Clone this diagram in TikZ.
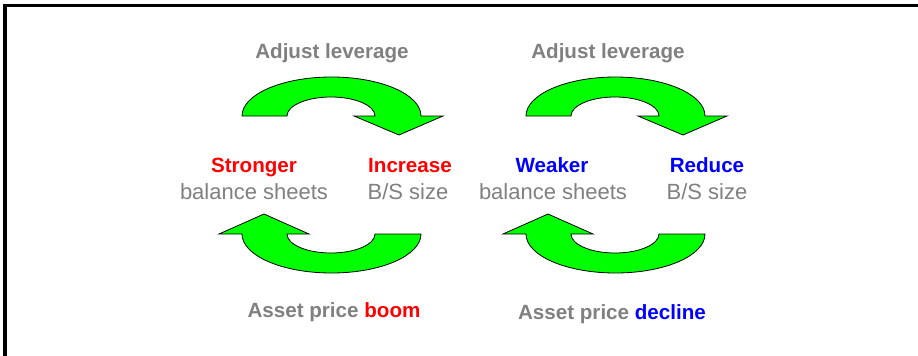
\documentclass[tikz,border=0pt]{standalone}
\usepackage{fontspec}
\setmainfont{Liberation Sans}
\definecolor{txtgray}{HTML}{808080}
\begin{document}
\begin{tikzpicture}[x=0.5pt,y=0.5pt,
            cyclearrow/.style={draw=black,fill=green,line width=0.4pt,line join=miter},
            sidetext/.style={anchor=base,inner sep=0pt,text=txtgray,font=\fontsize{11}{13}\selectfont},
            headtext/.style={sidetext,font=\fontsize{10.3}{12}\selectfont\bfseries}]
            \useasboundingbox (0,0) rectangle (918,355);
            % frame
            \draw[line width=1.5pt,line join=miter] (5,-10) -- (5,350) -- (930,350);
            % arrows
            \foreach \dx in {0,284} {
              \begin{scope}[shift={(\dx,0)}]
                \filldraw[cyclearrow] (242,239) arc[start angle=180,end angle=0,x radius=89.5,y radius=39]
                  -- (443,239) -- (399,220) -- (354,239) -- (375,239)
                  arc[start angle=0,end angle=180,x radius=44,y radius=19] -- cycle;
                \filldraw[cyclearrow] (421,121) arc[start angle=0,end angle=-180,x radius=89.5,y radius=39]
                  -- (219,121) -- (264,141) -- (309,121) -- (287,121)
                  arc[start angle=180,end angle=360,x radius=44,y radius=19] -- cycle;
              \end{scope}
            }
            % texts
            \node[headtext] (lev1) at (332,297) {Adjust leverage};
            \node[headtext] (lev2) at (608,297) {Adjust leverage};
            \node[headtext,text=red] (strong) at (254,183) {Stronger};
            \node[sidetext] (bal1) at (254,156) {balance sheets};
            \node[headtext,text=red] (incr) at (410,183) {Increase};
            \node[sidetext] (bs1) at (408,156) {B/S size};
            \node[headtext,text=blue] (weak) at (552,183) {Weaker};
            \node[sidetext] (bal2) at (553,156) {balance sheets};
            \node[headtext,text=blue] (reduce) at (707,183) {Reduce};
            \node[sidetext] (bs2) at (707,156) {B/S size};
            \node[headtext] (boom) at (334,38) {Asset price \textcolor{red}{boom}};
            \node[headtext] (decline) at (612,36) {Asset price \textcolor{blue}{decline}};
\end{tikzpicture}
\end{document}
